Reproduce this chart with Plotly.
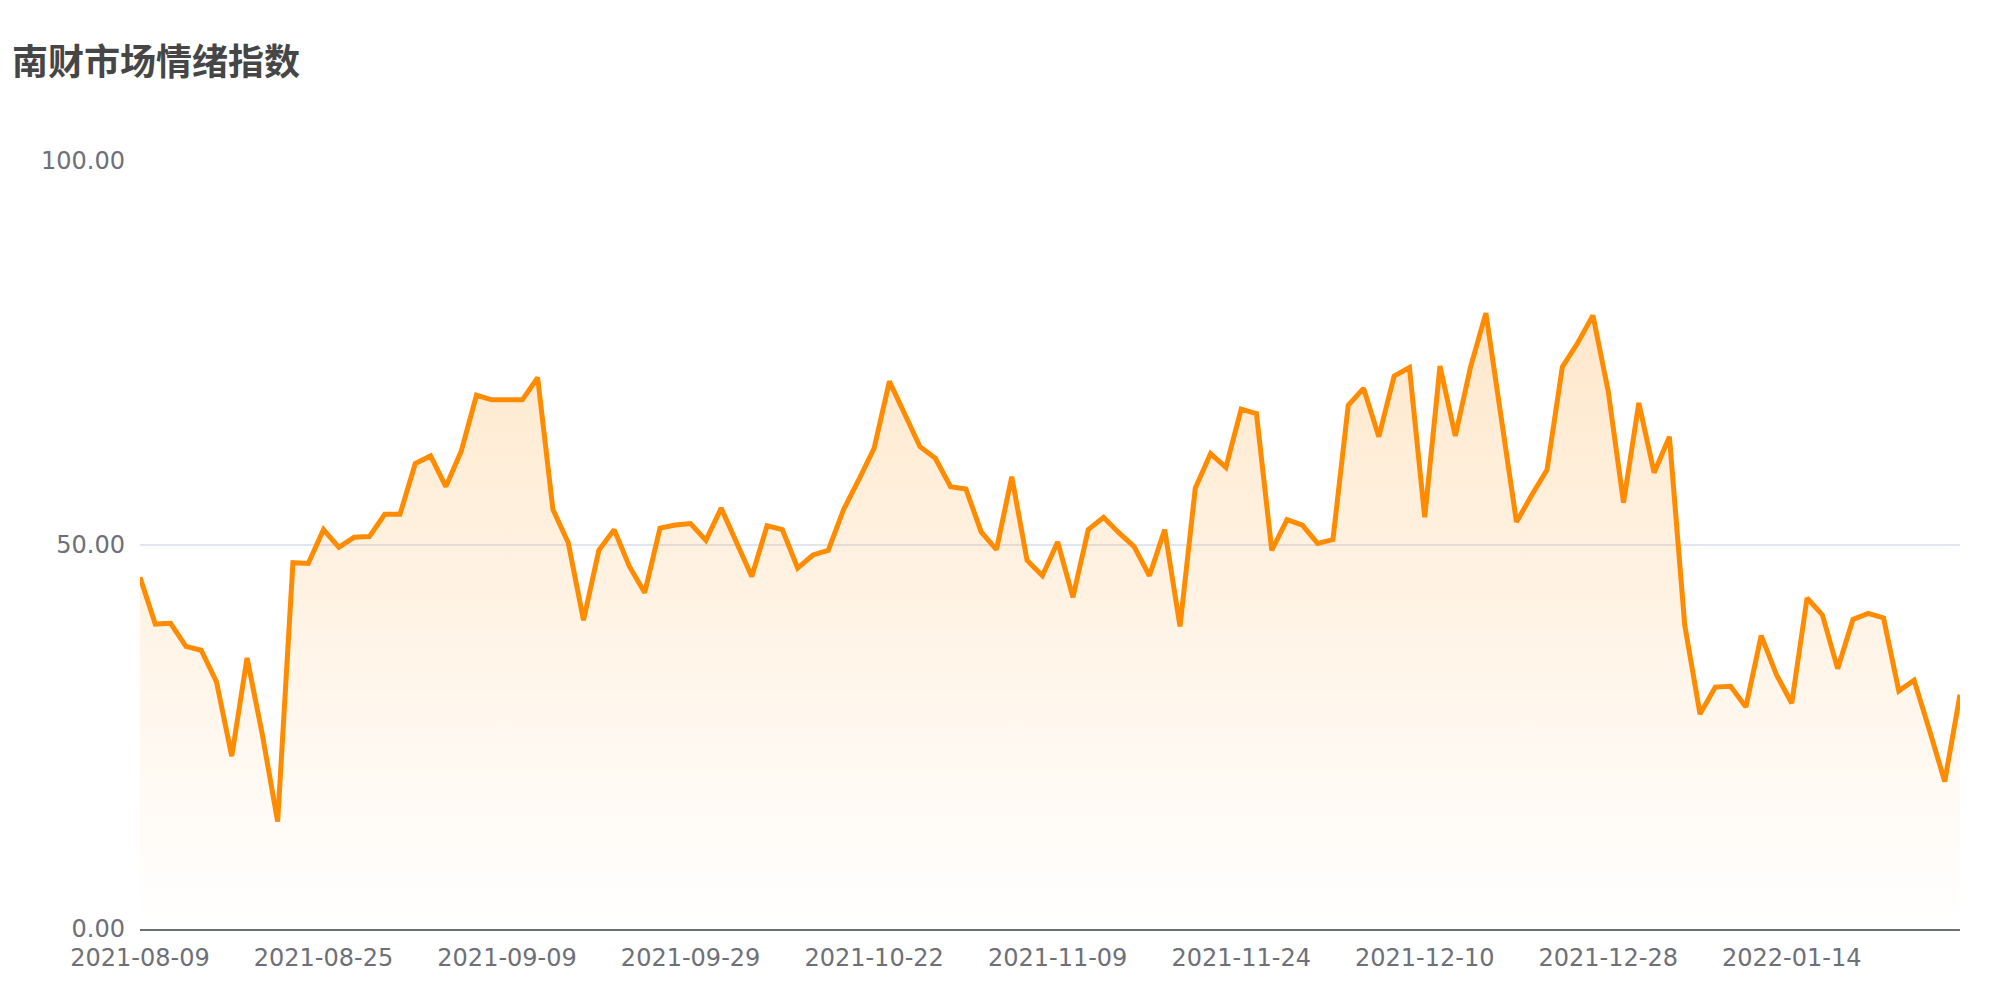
import plotly.graph_objects as go

title_text = "南财市场情绪指数"

dates = [
    "2021-08-09", "2021-08-10", "2021-08-11", "2021-08-12", "2021-08-13", "2021-08-16", "2021-08-17", "2021-08-18",
    "2021-08-19", "2021-08-20", "2021-08-23", "2021-08-24", "2021-08-25", "2021-08-26", "2021-08-27", "2021-08-30",
    "2021-08-31", "2021-09-01", "2021-09-02", "2021-09-03", "2021-09-04", "2021-09-06", "2021-09-07", "2021-09-08",
    "2021-09-09", "2021-09-10", "2021-09-13", "2021-09-14", "2021-09-15", "2021-09-16", "2021-09-17", "2021-09-22",
    "2021-09-23", "2021-09-24", "2021-09-27", "2021-09-28", "2021-09-29", "2021-09-30", "2021-10-08", "2021-10-11",
    "2021-10-12", "2021-10-13", "2021-10-14", "2021-10-15", "2021-10-18", "2021-10-19", "2021-10-20", "2021-10-21",
    "2021-10-22", "2021-10-25", "2021-10-26", "2021-10-27", "2021-10-28", "2021-10-29", "2021-11-01", "2021-11-02",
    "2021-11-03", "2021-11-04", "2021-11-05", "2021-11-08", "2021-11-09", "2021-11-10", "2021-11-11", "2021-11-12",
    "2021-11-13", "2021-11-15", "2021-11-16", "2021-11-17", "2021-11-18", "2021-11-19", "2021-11-22", "2021-11-23",
    "2021-11-24", "2021-11-25", "2021-11-26", "2021-11-29", "2021-11-30", "2021-12-01", "2021-12-02", "2021-12-03",
    "2021-12-06", "2021-12-07", "2021-12-08", "2021-12-09", "2021-12-10", "2021-12-13", "2021-12-14", "2021-12-15",
    "2021-12-16", "2021-12-17", "2021-12-20", "2021-12-21", "2021-12-22", "2021-12-23", "2021-12-24", "2021-12-27",
    "2021-12-28", "2021-12-29", "2021-12-30", "2021-12-31", "2022-01-04", "2022-01-05", "2022-01-06", "2022-01-07",
    "2022-01-10", "2022-01-11", "2022-01-12", "2022-01-13", "2022-01-14", "2022-01-17", "2022-01-18", "2022-01-19",
    "2022-01-20", "2022-01-21", "2022-01-24", "2022-01-25", "2022-01-26", "2022-01-27", "2022-01-28", "2022-02-07",
]

sentiment = [
    45.8, 39.7, 39.8, 36.8, 36.3, 32.2, 22.5, 35.3, 25.3, 14.0,
    47.7, 47.6, 52.0, 49.7, 51.0, 51.1, 54.0, 54.0, 60.6, 61.6,
    57.6, 62.2, 69.5, 68.9, 68.9, 68.9, 71.8, 54.6, 50.3, 40.2,
    49.3, 52.0, 47.2, 43.8, 52.2, 52.6, 52.8, 50.6, 54.8, 50.3,
    45.9, 52.5, 52.0, 47.0, 48.7, 49.3, 54.6, 58.5, 62.6, 71.3,
    66.9, 62.8, 61.3, 57.6, 57.3, 51.7, 49.4, 58.9, 48.0, 46.0,
    50.4, 43.2, 52.0, 53.6, 51.6, 49.8, 46.0, 52.0, 39.4, 57.4,
    61.9, 60.1, 67.7, 67.1, 49.3, 53.3, 52.6, 50.2, 50.7, 68.2,
    70.4, 64.1, 72.0, 73.1, 53.6, 73.3, 64.2, 73.2, 80.2, 66.3,
    53.0, 56.5, 59.8, 73.2, 76.3, 79.9, 70.0, 55.5, 68.5, 59.4,
    64.1, 39.6, 28.0, 31.5, 31.6, 28.9, 38.2, 33.1, 29.4, 43.1,
    40.9, 33.9, 40.3, 41.1, 40.5, 31.0, 32.4, 25.9, 19.2, 30.5,
]

y_ticks = [0, 50, 100]
x_tick_labels = dates[::12]

fig = go.Figure()
fig.add_trace(go.Scatter(
    x=dates,
    y=sentiment,
    mode="lines",
    line=dict(color="#ff8c00", width=5),
    fill="tozeroy",
    fillgradient=dict(
        type="vertical",
        colorscale=[[0, "rgba(255,140,0,0.0)"], [1, "rgba(255,140,0,0.2)"]],
    ),
    hovertemplate="%{x}<br>%{y:.2f}<extra></extra>",
    showlegend=False,
))

fig.update_layout(
    width=2000,
    height=1000,
    margin=dict(l=140, r=40, t=161, b=71),
    paper_bgcolor="white",
    plot_bgcolor="white",
    font=dict(family="DejaVu Sans, Noto Sans CJK SC", color="#6e7079"),
    title=dict(
        text="<b>" + title_text + "</b>",
        x=12 / 2000,
        xanchor="left",
        xref="container",
        y=1 - 62 / 1000,
        yanchor="middle",
        yref="container",
        font=dict(family="Noto Sans CJK SC", size=36, color="#464646"),
    ),
    xaxis=dict(
        type="category",
        range=[0, len(dates) - 1],
        tickmode="array",
        tickvals=x_tick_labels,
        ticktext=x_tick_labels,
        showgrid=False,
        showline=True,
        linecolor="#6e7079",
        linewidth=2,
        ticks="",
        ticklabelstandoff=6,
        tickfont=dict(size=24, color="#6e7079"),
        zeroline=False,
    ),
    yaxis=dict(
        range=[0, 100],
        tickmode="array",
        tickvals=y_ticks,
        tickformat=".2f",
        showgrid=True,
        gridcolor="#e0e6f1",
        gridwidth=1.5,
        zeroline=False,
        showline=False,
        ticks="",
        ticklabelstandoff=14,
        tickfont=dict(size=24, color="#6e7079"),
    ),
)

fig.write_html(
    "out.html",
    config={"displayModeBar": False},
    post_script="document.body.style.margin='0px';document.body.style.padding='0px';",
)
